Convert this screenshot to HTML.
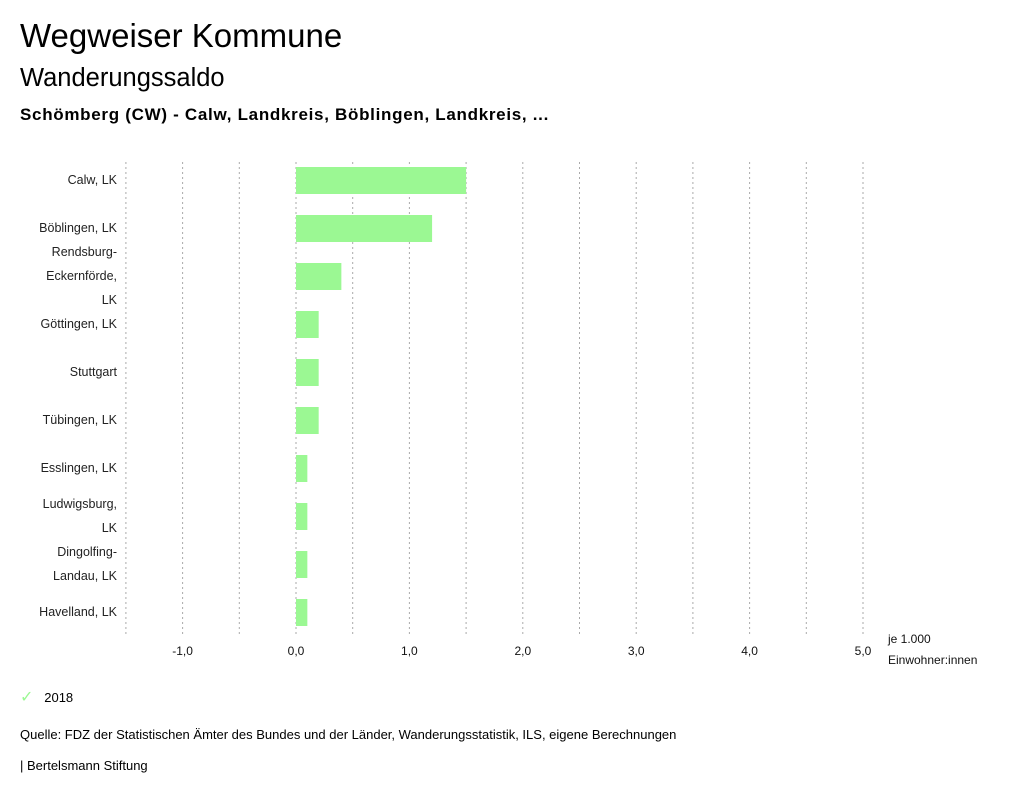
<!DOCTYPE html>
<html><head><meta charset="utf-8"><style>
body{margin:0;width:1024px;height:799px;background:#fff;font-family:"Liberation Sans",sans-serif;color:#000;overflow:hidden;position:relative}
.t{position:absolute;white-space:nowrap}
</style></head><body>
<div class="t" style="left:20px;top:17px;font-size:33px">Wegweiser Kommune</div>
<div class="t" style="left:20px;top:64px;font-size:25.5px">Wanderungssaldo</div>
<div class="t" style="left:20px;top:105px;font-size:17px;font-weight:bold;letter-spacing:0.7px">Schömberg (CW) - Calw, Landkreis, Böblingen, Landkreis, ...</div>
<svg id="chart" width="1024" height="680" style="position:absolute;left:0;top:0" font-family="Liberation Sans, sans-serif"></svg>
<div class="t" style="left:20px;top:687px;font-size:13px"><span style="color:#9bf893;font-size:16px">✓</span>&nbsp;&nbsp;&nbsp;2018</div>
<div class="t" style="left:20px;top:727px;font-size:13px">Quelle: FDZ der Statistischen Ämter des Bundes und der Länder, Wanderungsstatistik, ILS, eigene Berechnungen</div>
<div class="t" style="left:20px;top:758px;font-size:13px">| Bertelsmann Stiftung</div>
<script>
const categories=[["Calw, LK"],["Böblingen, LK"],["Rendsburg-","Eckernförde,","LK"],["Göttingen, LK"],["Stuttgart"],["Tübingen, LK"],["Esslingen, LK"],["Ludwigsburg,","LK"],["Dingolfing-","Landau, LK"],["Havelland, LK"]];
const values2018=[1.5,1.2,0.4,0.2,0.2,0.2,0.1,0.1,0.1,0.1];
const tickValues=[-1,0,1,2,3,4,5];
const tickLabels=["-1,0","0,0","1,0","2,0","3,0","4,0","5,0"];
const gridValues=[-1.5,-1,-0.5,0,0.5,1,1.5,2,2.5,3,3.5,4,4.5,5];
const svg=document.getElementById('chart');const NS='http://www.w3.org/2000/svg';
function xs(v){return 296+v*113.4;}
function ys(i){return 180+i*48;}
function mk(t,a){const e=document.createElementNS(NS,t);for(const k in a)e.setAttribute(k,a[k]);svg.appendChild(e);return e;}
gridValues.forEach(v=>{const l=mk('line',{x1:xs(v),x2:xs(v),y1:162,y2:635,stroke:'#aaa','stroke-dasharray':'2,3','stroke-width':1});

});
tickValues.forEach((v,i)=>{const t=mk('text',{x:xs(v),y:655,'font-size':12,'text-anchor':'middle',fill:'#111'});t.textContent=tickLabels[i];

});
const u1=mk('text',{x:888,y:643,'font-size':12,fill:'#111'});u1.textContent='je 1.000';


const u2=mk('text',{x:888,y:664,'font-size':12,fill:'#111'});u2.textContent='Einwohner:innen';


categories.forEach((c,i)=>{const y0=ys(i)-(c.length-1)*24/2;
c.forEach((ln,j)=>{const t=mk('text',{x:117,y:y0+j*24+4,'font-size':12.5,'text-anchor':'end',fill:'#222'});t.textContent=ln;

});
const v=values2018[i];const r=mk('rect',{x:Math.min(xs(0),xs(v)),y:ys(i)-13,width:Math.abs(xs(v)-xs(0)),height:27,fill:'#9bf893'});

});
</script>
</body></html>
